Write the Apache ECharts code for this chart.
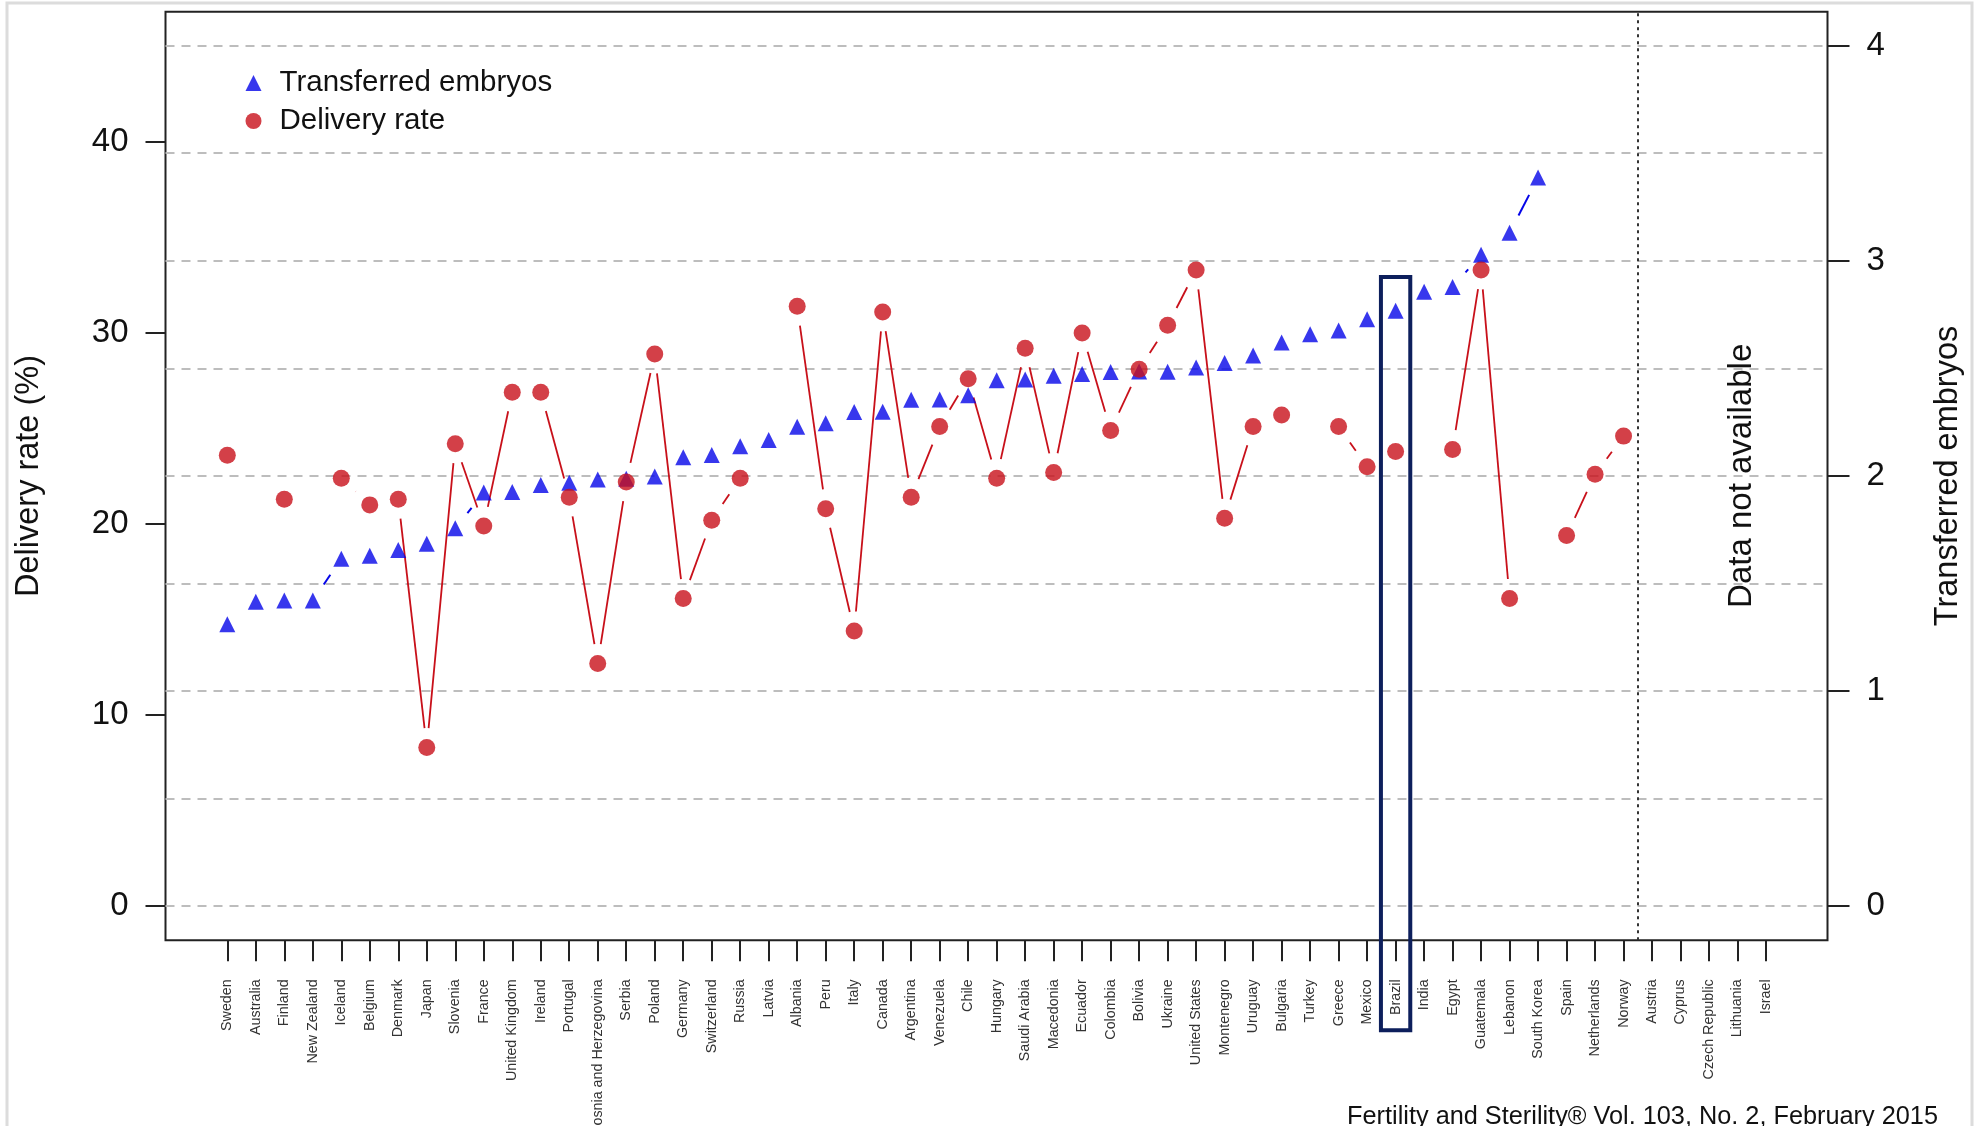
<!DOCTYPE html>
<html>
<head>
<meta charset="utf-8">
<script src="https://cdn.jsdelivr.net/npm/echarts@6/dist/echarts.min.js"></script>
<style>
html,body{margin:0;padding:0;background:#fff;}
#chart{width:1977px;height:1126px;}
</style>
</head>
<body>
<div id="chart"></div>
<script>
const countries = ["Sweden","Australia","Finland","New Zealand","Iceland","Belgium","Denmark","Japan","Slovenia","France","United Kingdom","Ireland","Portugal","Bosnia and Herzegovina","Serbia","Poland","Germany","Switzerland","Russia","Latvia","Albania","Peru","Italy","Canada","Argentina","Venezuela","Chile","Hungary","Saudi Arabia","Macedonia","Ecuador","Colombia","Bolivia","Ukraine","United States","Montenegro","Uruguay","Bulgaria","Turkey","Greece","Mexico","Brazil","India","Egypt","Guatemala","Lebanon","South Korea","Spain","Netherlands","Norway","Austria","Cyprus","Czech Republic","Lithuania","Israel"];

const deliveryRate = [23.6,null,21.3,null,22.4,21.0,21.3,8.3,24.2,19.9,26.9,26.9,21.4,12.7,22.2,28.9,16.1,20.2,22.4,null,31.4,20.8,14.4,31.1,21.4,25.1,27.6,22.4,29.2,22.7,30.0,24.9,28.1,30.4,33.3,20.3,25.1,25.7,null,25.1,23.0,23.8,null,23.9,33.3,16.1,null,19.4,22.6,24.6,null,null,null,null,null];

const transferredEmbryos = [1.31,1.415,1.42,1.42,1.615,1.628,1.655,1.684,1.756,1.922,1.925,1.957,1.968,1.983,1.987,1.997,2.086,2.097,2.137,2.167,2.228,2.244,2.297,2.298,2.354,2.355,2.375,2.445,2.448,2.465,2.474,2.483,2.485,2.484,2.504,2.525,2.559,2.62,2.658,2.676,2.728,2.767,2.856,2.878,3.028,3.13,3.387,null,null,null,null,null,null,null,null];

const leftTicks = [0,10,20,30,40];
const rightTicks = [0,1,2,3,4];
const gridValues = [0,0.5,1,1.5,2,2.5,3,3.5,4];
const naDivider = 49.5;
const highlighted = "Brazil";

const idx = countries.map((_, i) => i);
const RED = '#c8101a';
const BLUE = '#0505e8';
const FONT = 'Liberation Sans';
const X_MIN = -2.169, X_MAX = 56.157;

function pairs(arr) {
  const out = [];
  for (let i = 0; i < arr.length - 1; i++) {
    if (arr[i] != null && arr[i + 1] != null) out.push([i, arr[i], arr[i + 1]]);
  }
  return out;
}
function points(arr) {
  const out = [];
  arr.forEach((v, i) => { if (v != null) out.push([i, v]); });
  return out;
}
function segRender(color, width, gap) {
  return function (params, api) {
    const p0 = api.coord([api.value(0), api.value(1)]);
    const p1 = api.coord([api.value(0) + 1, api.value(2)]);
    const dx = p1[0] - p0[0], dy = p1[1] - p0[1];
    const len = Math.hypot(dx, dy);
    if (len <= 2 * gap) return { type: 'group', children: [] };
    const ux = dx / len, uy = dy / len;
    return {
      type: 'line',
      shape: { x1: p0[0] + ux * gap, y1: p0[1] + uy * gap, x2: p1[0] - ux * gap, y2: p1[1] - uy * gap },
      style: { stroke: color, lineWidth: width }
    };
  };
}

const chart = echarts.init(document.getElementById('chart'), null, { renderer: 'canvas' });

const tickStyle = { color: '#222', width: 2 };

const option = {
  backgroundColor: '#ffffff',
  animation: false,
  textStyle: { fontFamily: FONT },
  grid: {
    left: 165.5, top: 11.7, width: 1662, height: 928.6,
    show: true, borderColor: '#222', borderWidth: 2,
    containLabel: false, outerBoundsMode: 'none'
  },
  legend: {
    orient: 'vertical',
    left: 245.5, top: 68, padding: 0,
    itemWidth: 16, itemHeight: 16, itemGap: 8,
    formatter: name => '{g|}' + name,
    textStyle: {
      fontSize: 29.5, color: '#111', fontFamily: FONT,
      rich: { g: { width: 13 } }
    },
    data: [
      { name: 'Transferred embryos', icon: 'triangle' },
      { name: 'Delivery rate', icon: 'circle' }
    ]
  },
  xAxis: {
    type: 'value', min: X_MIN, max: X_MAX,
    axisLine: { show: false, onZero: false },
    splitLine: { show: false },
    axisTick: { show: true, customValues: idx, length: 21, lineStyle: tickStyle },
    axisLabel: {
      customValues: idx, rotate: 90, margin: 39,
      formatter: v => countries[Math.round(v)] || '',
      fontSize: 14.3, color: '#333', fontFamily: FONT
    }
  },
  yAxis: [
    {
      type: 'value', position: 'left', min: -1.796, max: 46.82,
      axisLine: { show: false, onZero: false }, splitLine: { show: false },
      axisTick: { show: true, customValues: leftTicks, length: 20, lineStyle: tickStyle },
      axisLabel: { customValues: leftTicks, fontSize: 33, color: '#111', margin: 37, fontFamily: FONT },
      name: 'Delivery rate (%)', nameLocation: 'middle', nameRotate: 90, nameGap: 120,
      nameTextStyle: { fontSize: 32.5, color: '#111', fontFamily: FONT }
    },
    {
      type: 'value', position: 'right', min: -0.1595, max: 4.158,
      axisLine: { show: false, onZero: false }, splitLine: { show: false },
      axisTick: { show: true, customValues: rightTicks, length: 22, lineStyle: tickStyle },
      axisLabel: { customValues: rightTicks, fontSize: 33, color: '#111', margin: 39, fontFamily: FONT },
      name: 'Transferred embryos', nameLocation: 'middle', nameRotate: 90, nameGap: 104,
      nameTextStyle: { fontSize: 32.5, color: '#111', fontFamily: FONT }
    }
  ],
  series: [
    {
      type: 'custom', name: 'embryoLine', yAxisIndex: 1, z: 2,
      encode: { x: 0, y: 1 },
      renderItem: segRender(BLUE, 2, 19.5),
      data: pairs(transferredEmbryos),
      silent: true,
      markLine: {
        silent: true, z: 1, symbol: ['none', 'none'], label: { show: false },
        lineStyle: { color: '#bdbdbd', type: [9, 7], width: 2 },
        emphasis: { disabled: true },
        data: gridValues.map(v => ({ yAxis: v }))
      }
    },
    {
      type: 'custom', name: 'rateLine', yAxisIndex: 0, z: 2,
      encode: { x: 0, y: 1 },
      renderItem: segRender(RED, 1.8, 19.5),
      data: pairs(deliveryRate),
      silent: true,
      markLine: {
        silent: true, z: 1, symbol: ['none', 'none'], label: { show: false },
        lineStyle: { color: '#333', type: [3, 4], width: 2 },
        emphasis: { disabled: true },
        data: [{ xAxis: naDivider }]
      }
    },
    {
      type: 'scatter', name: 'Transferred embryos', yAxisIndex: 1, z: 4,
      symbol: 'triangle', symbolSize: 16,
      itemStyle: { color: BLUE },
      data: points(transferredEmbryos)
    },
    {
      type: 'scatter', name: 'Delivery rate', yAxisIndex: 0, z: 5,
      symbol: 'circle', symbolSize: 17,
      itemStyle: { color: RED },
      data: points(deliveryRate)
    }
  ]
};
chart.setOption(option);

// annotations positioned through the axes
const bi = countries.indexOf(highlighted);
const px = v => chart.convertToPixel({ xAxisIndex: 0 }, v);
const bx = px(bi);
const step = px(1) - px(0);
const btop = chart.convertToPixel({ yAxisIndex: 1 }, 2.925);
const gridBottom = chart.convertToPixel({ yAxisIndex: 1 }, -0.1595);
const naX = px(53.15);
const naY = chart.convertToPixel({ yAxisIndex: 1 }, 2.0);

chart.setOption({
  graphic: [
    {
      type: 'rect', silent: true, z: 0,
      shape: { x: 7, y: 3, width: 1965, height: 1200 },
      style: { fill: 'none', stroke: '#dcdcdc', lineWidth: 3 }
    },
    {
      type: 'rect', silent: true, z: 10,
      shape: { x: bx - step * 0.515, y: btop, width: step * 1.03, height: gridBottom + 90 - btop },
      style: { fill: 'none', stroke: '#0d1f5c', lineWidth: 4 }
    },
    {
      type: 'text', silent: true, z: 10,
      x: naX, y: naY, rotation: Math.PI / 2,
      style: { text: 'Data not available', fontSize: 33, fontFamily: FONT, fill: '#111', align: 'center', verticalAlign: 'middle' }
    },
    {
      type: 'text', silent: true, z: 10,
      x: 1938, y: 1130,
      style: { text: 'Fertility and Sterility\u00AE Vol. 103, No. 2, February 2015', fontSize: 25.3, fontFamily: FONT, fill: '#111', align: 'right', verticalAlign: 'bottom' }
    }
  ]
});
</script>
</body>
</html>
